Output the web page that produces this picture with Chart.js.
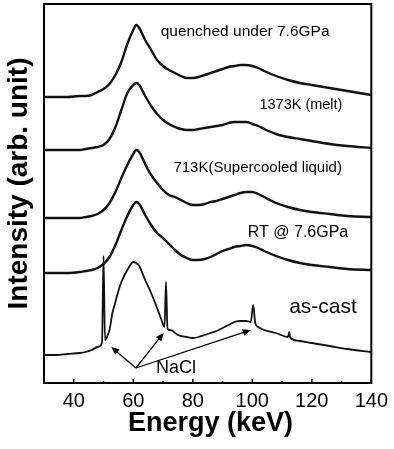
<!DOCTYPE html>
<html>
<head>
<meta charset="utf-8">
<script src="https://cdn.jsdelivr.net/npm/chart.js@4.4.0/dist/chart.umd.min.js"></script>
<style>
    body { margin: 0; background: #fff; }
    canvas { display: block; }
</style>
</head>
<body>
<canvas id="myChart" width="394" height="449"></canvas>
<script>
// energies (keV) shared by the four liquid / glass curves
const energy = [30, 34, 38, 42, 44, 46, 48, 50, 52, 54, 56, 58, 60, 61, 62, 64, 66, 68, 70, 72, 74, 76, 78, 80, 82, 84, 86, 88, 90, 92, 94, 96, 98, 100, 102, 104, 108, 112, 116, 120, 126, 132, 140];

// intensities, already shifted upward for stacking (arb. unit)
const quenched = [286, 286, 286, 287, 287, 288, 291, 294, 299, 308, 321, 339, 353, 358, 355, 343, 333, 323, 317, 313, 310, 307, 305, 305, 306, 308, 310, 312, 314, 316, 317, 318, 318, 317, 315, 312, 307, 303, 300, 298, 295, 292, 288];
const melt = [233, 233, 233, 233, 234, 235, 236, 238, 244, 256, 273, 290, 298, 300, 298, 287, 277, 269, 263, 259, 256, 254, 253, 253, 254, 255, 256, 257, 258, 260, 261, 261, 261, 259, 257, 254, 249, 246, 244, 242, 239, 237, 235];
const supercooled = [165, 165, 165, 165, 166, 167, 169, 173, 180, 191, 205, 218, 229, 233, 231, 219, 208, 200, 193, 188, 186, 183, 180, 178, 178, 179, 181, 182, 184, 186, 188, 190, 191, 191, 189, 186, 180, 176, 173, 171, 169, 167, 166];
const roomTemp = [110, 110, 110, 111, 112, 113, 115, 119, 126, 138, 153, 167, 178, 181, 179, 168, 158, 150, 145, 139, 133, 128, 125, 123, 123, 124, 126, 129, 132, 134, 136, 137, 138, 137, 135, 132, 127, 123, 120, 118, 116, 114, 113];

// as-cast has its own energies so the NaCl lines can be sharp
const castEnergy = [30, 34, 38, 42, 44, 46, 48, 49.5, 50, 50.5, 51, 52, 53, 54, 55, 56, 58, 60, 61, 62, 64, 66, 68, 69.5, 70.5, 71, 71.5, 72.5, 75, 78, 80, 82, 84, 86, 88, 90, 92, 94, 96, 98, 99.5, 100.3, 101, 102, 104, 108, 112, 112.4, 112.8, 116, 120, 126, 132, 140];
const asCast = [28, 28, 29, 30, 31, 33, 36, 40, 127, 43, 45, 53, 70, 81, 92, 101, 113, 121, 120, 117, 103, 90, 75, 63, 56, 101, 54, 53, 48, 46, 45, 46, 48, 50, 52, 55, 58, 61, 62, 62, 61, 78, 60, 56, 53, 50, 46, 51, 45, 42, 40, 37, 34, 31];

const tickValues = [40, 60, 80, 100, 120, 140];
const minorTicks = [30, 50, 70, 90, 110, 130];

// text labels and NaCl arrows, in data coordinates
const notes = [
    { text: 'quenched under 7.6GPa', x: 69.2, y: 351, size: 15.5 },
    { text: '1373K (melt)', x: 102.4, y: 278, size: 14.5 },
    { text: '713K(Supercooled liquid)', x: 73.5, y: 215, size: 15 },
    { text: 'RT @ 7.6GPa', x: 98.5, y: 150, size: 16 },
    { text: 'as-cast', x: 112.4, y: 76, size: 21 },
    { text: 'NaCl', x: 67.6, y: 15, size: 18 }
];
const arrowFrom = { x: 60.9, y: 15 };
const arrowTo = [{ x: 52.6, y: 36 }, { x: 70.2, y: 50 }, { x: 99.5, y: 53 }];

function pairs(xs, ys) {
    return xs.map((x, i) => ({ x: x, y: ys[i] }));
}

function line(data, w) {
    return {
        data: data,
        borderColor: '#111',
        borderWidth: w,
        pointRadius: 0,
        cubicInterpolationMode: 'monotone',
        fill: false
    };
}

const decor = {
    id: 'decor',
    afterDraw(chart) {
        const ctx = chart.ctx;
        const a = chart.chartArea;
        const xs = chart.scales.x;
        const ys = chart.scales.y;
        ctx.save();
        ctx.strokeStyle = '#000';
        ctx.lineWidth = 2;
        ctx.strokeRect(a.left, a.top, a.right - a.left, a.bottom - a.top);

        // inward ticks
        ctx.lineWidth = 1.5;
        ctx.beginPath();
        tickValues.forEach(v => {
            const px = xs.getPixelForValue(v);
            ctx.moveTo(px, a.bottom);
            ctx.lineTo(px, a.bottom - 4);
        });
        minorTicks.forEach(v => {
            const px = xs.getPixelForValue(v);
            ctx.moveTo(px, a.bottom);
            ctx.lineTo(px, a.bottom - 2);
        });
        ctx.stroke();

        ctx.fillStyle = '#000';
        ctx.textBaseline = 'middle';
        ctx.textAlign = 'left';
        notes.forEach(n => {
            ctx.font = n.size + 'px "Liberation Sans", Arial, sans-serif';
            ctx.fillText(n.text, xs.getPixelForValue(n.x), ys.getPixelForValue(n.y));
        });

        // arrows
        const fx = xs.getPixelForValue(arrowFrom.x);
        const fy = ys.getPixelForValue(arrowFrom.y);
        ctx.lineWidth = 1.3;
        arrowTo.forEach(t => {
            const tx = xs.getPixelForValue(t.x);
            const ty = ys.getPixelForValue(t.y);
            const ang = Math.atan2(ty - fy, tx - fx);
            ctx.beginPath();
            ctx.moveTo(fx, fy);
            ctx.lineTo(tx - 6 * Math.cos(ang), ty - 6 * Math.sin(ang));
            ctx.stroke();
            ctx.beginPath();
            ctx.moveTo(tx, ty);
            ctx.lineTo(tx - 8 * Math.cos(ang) + 3.5 * Math.sin(ang), ty - 8 * Math.sin(ang) - 3.5 * Math.cos(ang));
            ctx.lineTo(tx - 8 * Math.cos(ang) - 3.5 * Math.sin(ang), ty - 8 * Math.sin(ang) + 3.5 * Math.cos(ang));
            ctx.closePath();
            ctx.fill();
        });

        // axis titles
        ctx.font = 'bold 27px "Liberation Sans", Arial, sans-serif';
        ctx.textAlign = 'center';
        ctx.fillText('Energy (keV)', 210.5, 424);
        ctx.translate(19, 183.5);
        ctx.rotate(-Math.PI / 2);
        ctx.font = 'bold 28px "Liberation Sans", Arial, sans-serif';
        ctx.fillText('Intensity (arb. unit)', 0, 0);
        ctx.restore();
    }
};

const ctx = document.getElementById('myChart').getContext('2d');

const myChart = new Chart(ctx, {
    type: 'line',
    data: {
        datasets: [
            line(pairs(energy, quenched), 2.4),
            line(pairs(energy, melt), 2.4),
            line(pairs(energy, supercooled), 2.4),
            line(pairs(energy, roomTemp), 2.4),
            line(pairs(castEnergy, asCast), 1.8)
        ]
    },
    options: {
        responsive: false,
        animation: false,
        devicePixelRatio: 1,
        layout: { padding: { top: 4, right: 19, left: 0, bottom: 0 } },
        plugins: { legend: { display: false }, tooltip: { enabled: false } },
        scales: {
            x: {
                type: 'linear',
                min: 30,
                max: 140,
                grid: { display: false, drawTicks: false },
                border: { display: false },
                afterBuildTicks: s => { s.ticks = tickValues.map(v => ({ value: v })); },
                afterFit: s => { s.height = 66; },
                ticks: {
                    padding: 6,
                    color: '#000',
                    maxRotation: 0,
                    font: { family: '"Liberation Sans", Arial, sans-serif', size: 20 }
                }
            },
            y: {
                min: 0,
                max: 379,
                grid: { display: false, drawTicks: false },
                border: { display: false },
                ticks: { display: false },
                afterFit: s => { s.width = 44; }
            }
        }
    },
    plugins: [decor]
});
</script>
</body>
</html>
